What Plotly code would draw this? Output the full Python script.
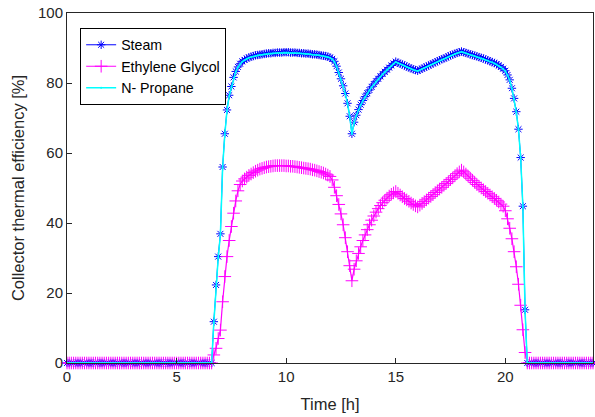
import plotly.graph_objects as go

# Time grid [h], 0.1 h resolution from 0 to 24 h
time_h = [round(i * 0.1, 1) for i in range(241)]

# Collector thermal efficiency [%]
steam_eff = [
    # 0.0 .. 6.6 h
    0, 0, 0, 0, 0, 0, 0, 0, 0, 0, 0, 0, 0, 0, 0, 0, 0, 0, 0, 0,
    0, 0, 0, 0, 0, 0, 0, 0, 0, 0, 0, 0, 0, 0, 0, 0, 0, 0, 0, 0,
    0, 0, 0, 0, 0, 0, 0, 0, 0, 0, 0, 0, 0, 0, 0, 0, 0, 0, 0, 0,
    0, 0, 0, 0, 0, 0, 0,
    # 6.7 .. 20.9 h
    11.8, 22.3, 30.4, 36.9, 56.0, 65.5, 72.3, 76.5, 79.0, 81.6,
    83.3, 84.6, 85.5, 86.2, 86.6, 87.0, 87.3, 87.5, 87.7, 87.9,
    88.0, 88.1, 88.2, 88.3, 88.4, 88.5, 88.5, 88.6, 88.6, 88.7,
    88.7, 88.7, 88.8, 88.8, 88.8, 88.7, 88.7, 88.7, 88.6, 88.6,
    88.5, 88.5, 88.4, 88.4, 88.3, 88.2, 88.2, 88.1, 88.0, 87.9,
    87.8, 87.7, 87.5, 87.3, 86.9, 86.2, 84.8, 83.0, 81.2, 79.2,
    77.0, 74.2, 70.5, 65.5, 68.8, 70.8, 72.4, 73.8, 75.0, 76.1,
    77.1, 78.0, 78.9, 79.7, 80.5, 81.2, 81.9, 82.6, 83.2, 83.8,
    84.4, 85.0, 85.6, 86.1, 85.8, 85.5, 85.3, 85.0, 84.7, 84.4,
    84.2, 83.9, 83.7, 83.5, 83.8, 84.1, 84.4, 84.7, 85.0, 85.3,
    85.6, 85.9, 86.2, 86.5, 86.8, 87.0, 87.3, 87.6, 87.9, 88.1,
    88.4, 88.6, 88.8, 89.0, 88.8, 88.6, 88.4, 88.2, 88.0, 87.8,
    87.6, 87.4, 87.2, 87.0, 86.7, 86.5, 86.2, 86.0, 85.7, 85.4,
    85.0, 84.6, 84.1, 83.5, 82.3, 80.9, 78.5, 75.6, 71.8, 66.8,
    58.7, 44.8, 15.2,
    # 21.0 .. 24.0 h
    0, 0, 0, 0, 0, 0, 0, 0, 0, 0, 0, 0, 0, 0, 0, 0, 0, 0, 0, 0,
    0, 0, 0, 0, 0, 0, 0, 0, 0, 0, 0,
]

glycol_eff = [
    # 0.0 .. 6.6 h
    0, 0, 0, 0, 0, 0, 0, 0, 0, 0, 0, 0, 0, 0, 0, 0, 0, 0, 0, 0,
    0, 0, 0, 0, 0, 0, 0, 0, 0, 0, 0, 0, 0, 0, 0, 0, 0, 0, 0, 0,
    0, 0, 0, 0, 0, 0, 0, 0, 0, 0, 0, 0, 0, 0, 0, 0, 0, 0, 0, 0,
    0, 0, 0, 0, 0, 0, 0,
    # 6.7 .. 20.9 h
    2.3, 4.2, 7.0, 9.4, 17.5, 24.7, 30.4, 35.0, 39.0, 42.8,
    46.3, 49.2, 51.0, 52.0, 52.6, 53.1, 53.6, 54.0, 54.4, 54.8,
    55.1, 55.4, 55.6, 55.8, 56.0, 56.1, 56.2, 56.3, 56.4, 56.4,
    56.4, 56.4, 56.4, 56.3, 56.3, 56.2, 56.2, 56.1, 56.0, 55.9,
    55.8, 55.7, 55.6, 55.5, 55.4, 55.2, 55.1, 54.9, 54.7, 54.5,
    54.3, 54.0, 53.7, 53.3, 52.3, 50.2, 47.8, 45.3, 42.6, 39.5,
    35.8, 31.8, 27.8, 23.5, 26.8, 29.2, 31.3, 33.2, 35.0, 36.6,
    38.1, 39.5, 40.8, 42.0, 43.1, 44.1, 45.0, 45.8, 46.5, 47.1,
    47.7, 48.2, 48.6, 49.0, 48.5, 48.0, 47.5, 47.0, 46.6, 46.2,
    45.7, 45.3, 44.9, 44.6, 45.1, 45.6, 46.1, 46.6, 47.1, 47.6,
    48.1, 48.7, 49.2, 49.7, 50.2, 50.8, 51.3, 51.8, 52.4, 52.9,
    53.5, 54.1, 54.6, 55.1, 54.6, 54.0, 53.4, 52.8, 52.2, 51.6,
    51.0, 50.5, 50.0, 49.5, 49.0, 48.5, 48.0, 47.5, 47.0, 46.5,
    46.0, 45.4, 44.8, 43.5, 41.2, 38.5, 35.5, 31.8, 27.5, 22.5,
    16.5, 9.5, 3.0,
    # 21.0 .. 24.0 h
    0, 0, 0, 0, 0, 0, 0, 0, 0, 0, 0, 0, 0, 0, 0, 0, 0, 0, 0, 0,
    0, 0, 0, 0, 0, 0, 0, 0, 0, 0, 0,
]

propane_eff = [
    # 0.0 .. 6.6 h
    0, 0, 0, 0, 0, 0, 0, 0, 0, 0, 0, 0, 0, 0, 0, 0, 0, 0, 0, 0,
    0, 0, 0, 0, 0, 0, 0, 0, 0, 0, 0, 0, 0, 0, 0, 0, 0, 0, 0, 0,
    0, 0, 0, 0, 0, 0, 0, 0, 0, 0, 0, 0, 0, 0, 0, 0, 0, 0, 0, 0,
    0, 0, 0, 0, 0, 0, 0,
    # 6.7 .. 20.9 h
    11.6, 22.0, 30.2, 36.7, 55.8, 65.3, 72.1, 76.3, 78.9, 81.5,
    83.2, 84.5, 85.4, 86.1, 86.5, 86.9, 87.2, 87.4, 87.6, 87.8,
    87.9, 88.0, 88.1, 88.2, 88.3, 88.4, 88.4, 88.5, 88.5, 88.6,
    88.6, 88.6, 88.7, 88.7, 88.7, 88.6, 88.6, 88.6, 88.5, 88.5,
    88.4, 88.4, 88.3, 88.3, 88.2, 88.1, 88.1, 88.0, 87.9, 87.8,
    87.7, 87.6, 87.4, 87.2, 86.8, 86.1, 84.7, 82.9, 81.1, 79.1,
    76.9, 74.1, 70.4, 65.4, 68.7, 70.7, 72.3, 73.7, 74.9, 76.0,
    77.0, 77.9, 78.8, 79.6, 80.4, 81.1, 81.8, 82.5, 83.1, 83.7,
    84.3, 84.9, 85.5, 86.0, 85.7, 85.4, 85.2, 84.9, 84.6, 84.3,
    84.1, 83.8, 83.6, 83.4, 83.7, 84.0, 84.3, 84.6, 84.9, 85.2,
    85.5, 85.8, 86.1, 86.4, 86.7, 86.9, 87.2, 87.5, 87.8, 88.0,
    88.3, 88.5, 88.7, 88.9, 88.7, 88.5, 88.3, 88.1, 87.9, 87.7,
    87.5, 87.3, 87.1, 86.9, 86.6, 86.4, 86.1, 85.9, 85.6, 85.3,
    84.9, 84.5, 84.0, 83.4, 82.2, 80.8, 78.4, 75.5, 71.7, 66.7,
    58.6, 44.7, 15.0,
    # 21.0 .. 24.0 h
    0, 0, 0, 0, 0, 0, 0, 0, 0, 0, 0, 0, 0, 0, 0, 0, 0, 0, 0, 0,
    0, 0, 0, 0, 0, 0, 0, 0, 0, 0, 0,
]

x_ticks = [0, 5, 10, 15, 20]
y_ticks = [0, 20, 40, 60, 80, 100]

FONT = "Liberation Sans, Arial, Helvetica, sans-serif"
AX = "#262626"

fig = go.Figure()
fig.add_trace(go.Scatter(
    x=time_h, y=steam_eff, name="Steam", mode="lines+markers",
    line=dict(color="#0000ff", width=1),
    marker=dict(symbol="asterisk-open", size=7, color="#0000ff",
                line=dict(width=1, color="#0000ff")),
    cliponaxis=False,
))
fig.add_trace(go.Scatter(
    x=time_h, y=glycol_eff, name="Ethylene Glycol", mode="lines+markers",
    line=dict(color="#ff00ff", width=1.2),
    marker=dict(symbol="cross-thin-open", size=9, color="#ff00ff",
                line=dict(width=1, color="#ff00ff")),
    cliponaxis=False,
))
fig.add_trace(go.Scatter(
    x=time_h, y=propane_eff, name="N- Propane", mode="lines+markers",
    line=dict(color="#00ffff", width=1.5),
    marker=dict(symbol="circle", size=2, color="#00ffff"),
    cliponaxis=False,
))

fig.update_layout(
    width=595, height=417,
    margin=dict(l=67, r=2, t=13, b=54),
    paper_bgcolor="white", plot_bgcolor="white",
    font=dict(family=FONT, size=14, color=AX),
    showlegend=True,
    legend=dict(
        x=0.025, y=0.957, xanchor="left", yanchor="top",
        bgcolor="white", bordercolor="#000000", borderwidth=1,
        font=dict(family=FONT, size=14.2, color="#000000"),
        tracegroupgap=0, itemwidth=30,
    ),
)
fig.update_xaxes(
    range=[0, 24], tickvals=x_ticks, ticktext=[str(v) for v in x_ticks],
    showline=True, mirror=True, linecolor=AX, linewidth=1,
    ticks="inside", ticklen=5, tickcolor=AX, showgrid=False, zeroline=False,
    tickfont=dict(size=15, color=AX),
    title=dict(text="Time [h]", font=dict(size=16.5, color=AX), standoff=14),
)
fig.update_yaxes(
    range=[0, 100], tickvals=y_ticks, ticktext=[str(v) for v in y_ticks],
    showline=True, mirror=True, linecolor=AX, linewidth=1,
    ticks="inside", ticklen=5, tickcolor=AX, showgrid=False, zeroline=False,
    tickfont=dict(size=15, color=AX),
    title=dict(text="Collector thermal efficiency [%]", font=dict(size=16.5, color=AX), standoff=9),
)

fig.write_html("out.html")
